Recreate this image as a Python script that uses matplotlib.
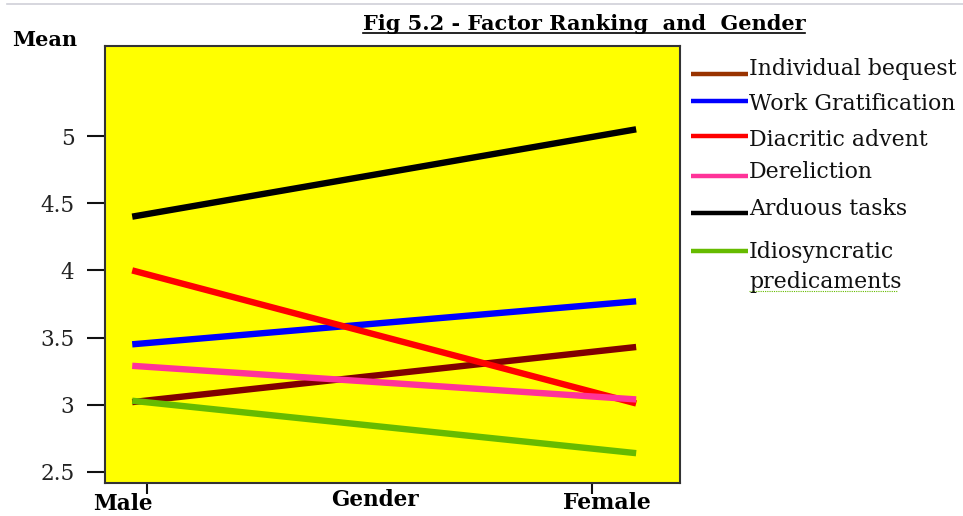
import matplotlib.pyplot as plt
from matplotlib.lines import Line2D

# Mean factor score by gender
genders = ["Male", "Female"]
factors = ["Individual bequest", "Work Gratification", "Diacritic advent",
           "Dereliction", "Arduous tasks", "Idiosyncratic\npredicaments"]
male_means = [3.02, 3.45, 4.00, 3.29, 4.40, 3.03]
female_means = [3.43, 3.77, 3.01, 3.04, 5.05, 2.64]
line_colors = ["#800000", "#0000FF", "#FF0000", "#FF3399", "#000000", "#66BB00"]
legend_colors = ["#993300", "#0000FF", "#FF0000", "#FF3399", "#000000", "#66BB00"]
y_ticks = [2.5, 3, 3.5, 4, 4.5, 5]

W, H = 963, 516
plt.rcParams["font.family"] = ["DejaVu Serif"]

fig = plt.figure(figsize=(W / 100, H / 100), dpi=100)
ax = fig.add_axes([105 / W, 1 - 483 / H, 575 / W, 437 / H])
ax.set_facecolor("#FFFF00")

xs = list(range(len(genders)))
for m, f, c in zip(male_means, female_means, line_colors):
    ax.plot(xs, [m, f], color=c, lw=4.6, solid_capstyle="butt")

ax.set_xlim(-0.054, 1.087)
ax.set_ylim(2.418, 5.67)

ax.set_yticks(y_ticks)
ax.set_yticklabels([f"{t:g}" for t in y_ticks], fontsize=15.5, color="#222222")
ax.tick_params(axis="y", length=13, width=1.5, pad=9, color="#111111")
ax.set_xticks([0.03, 0.913])
ax.set_xticklabels(["", ""])
ax.tick_params(axis="x", length=8, width=1.5, color="#111111")
for s in ax.spines.values():
    s.set_color("#333333")
    s.set_linewidth(1.5)

# axis texts
fig.text(12 / W, 1 - 46 / H, "Mean", fontsize=15, fontweight="bold", va="baseline")
fig.text(123 / W, 1 - 510 / H, genders[0], fontsize=15.5, fontweight="bold",
         ha="center", va="baseline")
fig.text(375 / W, 1 - 506 / H, "Gender", fontsize=15.5, fontweight="bold",
         ha="center", va="baseline")
fig.text(607 / W, 1 - 509 / H, genders[1], fontsize=15.8, fontweight="bold",
         ha="center", va="baseline")

# title, underlined
title = fig.text(584 / W, 1 - 30 / H, "Fig 5.2 - Factor Ranking  and  Gender",
                 fontsize=15, fontweight="bold", ha="center", va="baseline")
fig.canvas.draw()
bb = title.get_window_extent()
fig.add_artist(Line2D([bb.x0 / W, bb.x1 / W], [1 - 33 / H, 1 - 33 / H],
                      color="black", lw=1.2, transform=fig.transFigure))

# thin grey rule at top
fig.add_artist(Line2D([7 / W, 1], [1 - 4 / H, 1 - 4 / H], color="#cfd0d8",
                      lw=1.2, transform=fig.transFigure))

# legend drawn by hand
handle_y = [74, 101, 136, 176, 213, 251]
text_base = [75, 110, 146, 178, 215, 258]
for name, c, hy, ty in zip(factors, legend_colors, handle_y, text_base):
    fig.add_artist(Line2D([691 / W, 748 / W], [1 - hy / H, 1 - hy / H], color=c,
                          lw=3.2, solid_capstyle="butt", transform=fig.transFigure))
    for k, part in enumerate(name.split("\n")):
        fig.text(749 / W, 1 - (ty + 30 * k) / H, part, fontsize=15.8,
                 va="baseline", color="#111111")
fig.add_artist(Line2D([749 / W, 897 / W], [1 - 291 / H, 1 - 291 / H], color="#66BB00",
                      lw=0.8, ls=(0, (1, 1)), transform=fig.transFigure))

fig.savefig("out.png", dpi=100)
